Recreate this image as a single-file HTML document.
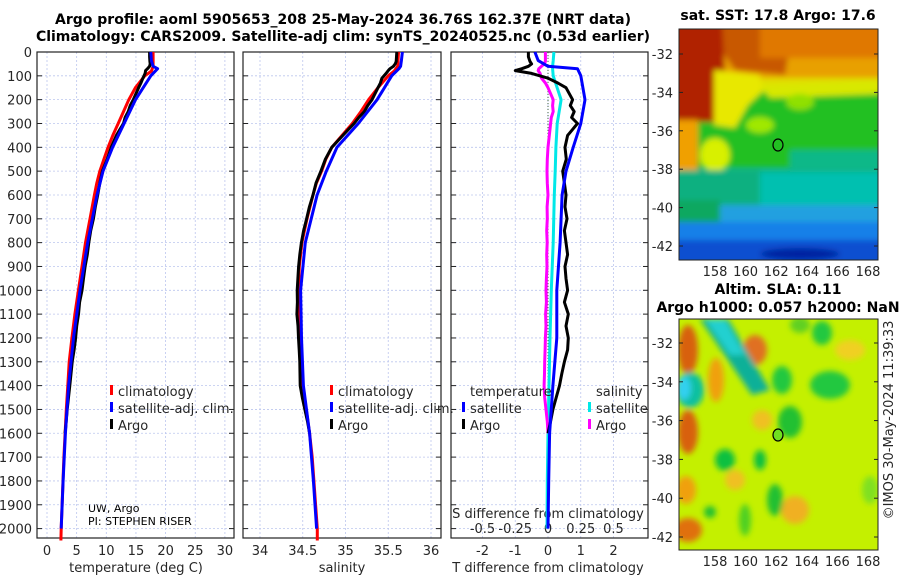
<!DOCTYPE html>
<html><head><meta charset="utf-8">
<style>
html,body{margin:0;padding:0;background:#fff;}
svg{display:block;font-family:"DejaVu Sans","Liberation Sans",sans-serif;}
.t{font-size:13px;fill:#262626;}
.b{font-weight:bold;font-size:14px;fill:#000;}
</style></head>
<body>
<svg id="fig" width="900" height="580" viewBox="0 0 900 580" xmlns="http://www.w3.org/2000/svg">
<defs>
<filter id="bl" filterUnits="userSpaceOnUse" x="660" y="10" width="240" height="270"><feGaussianBlur stdDeviation="3"/></filter>
<filter id="bl2" filterUnits="userSpaceOnUse" x="660" y="300" width="240" height="270"><feGaussianBlur stdDeviation="3"/></filter>
<clipPath id="c1"><rect x="679" y="29" width="199" height="231"/></clipPath>
<clipPath id="c2"><rect x="679" y="319" width="199" height="231"/></clipPath>
</defs>
<text class="b" x="343" y="24" text-anchor="middle">Argo profile: aoml 5905653_208 25-May-2024 36.76S 162.37E (NRT data)</text>
<text class="b" x="343" y="41" text-anchor="middle">Climatology: CARS2009. Satellite-adj clim: synTS_20240525.nc (0.53d earlier)</text>

<!-- SST map -->
<g>
<g clip-path="url(#c1)">
<rect x="679" y="29" width="199" height="231" fill="#10b880"/>
<g filter="url(#bl)">
<rect x="670" y="20" width="220" height="60" fill="#e8a000"/>
<rect x="670" y="78" width="220" height="16" fill="#e0e000"/>
<rect x="670" y="92" width="220" height="75" fill="#20c020"/>
<polygon points="700,20 765,20 790,45 785,75 735,70" fill="#c85800"/>
<rect x="760" y="20" width="130" height="38" fill="#e07800"/>
<polygon points="670,20 722,20 725,75 715,122 670,122" fill="#b02000"/>
<polygon points="714,70 760,75 762,92 748,105 735,128 714,125" fill="#e8e800"/>
<polygon points="760,86 878,80 878,94 770,98" fill="#d8e800"/>
<rect x="670" y="120" width="28" height="50" fill="#f0a000"/>
<ellipse cx="715" cy="155" rx="15" ry="17" fill="#d8f000"/>
<ellipse cx="760" cy="125" rx="14" ry="8" fill="#a0e800"/>
<ellipse cx="800" cy="102" rx="14" ry="8" fill="#90e000"/>
<rect x="790" y="150" width="100" height="25" fill="#10b888"/>
<rect x="670" y="170" width="220" height="35" fill="#10b080"/>
<rect x="760" y="172" width="130" height="33" fill="#00c0b0"/>
<rect x="670" y="200" width="50" height="25" fill="#10a860"/>
<rect x="720" y="205" width="170" height="20" fill="#20a0e0"/>
<rect x="670" y="222" width="220" height="20" fill="#1880e8"/>
<rect x="670" y="240" width="220" height="25" fill="#1050d0"/>
<ellipse cx="800" cy="254" rx="40" ry="6" fill="#0020a0"/>
</g>
</g>
<rect x="679" y="29" width="199" height="231" fill="none" stroke="#222" stroke-width="1"/>
<ellipse cx="778" cy="145" rx="5" ry="6" fill="none" stroke="#000" stroke-width="1.2"/>
<text class="b" x="778" y="20" text-anchor="middle">sat. SST: 17.8 Argo: 17.6</text>
</g>

<!-- SLA map -->
<g>
<g clip-path="url(#c2)">
<rect x="679" y="319" width="199" height="231" fill="#c4f000"/>
<g filter="url(#bl2)">
<ellipse cx="688" cy="350" rx="10" ry="25" fill="#d86010"/>
<ellipse cx="688" cy="432" rx="10" ry="22" fill="#d86010"/>
<ellipse cx="688" cy="530" rx="14" ry="12" fill="#e07010"/>
<ellipse cx="686" cy="490" rx="10" ry="14" fill="#f0a010"/>
<ellipse cx="755" cy="350" rx="12" ry="15" fill="#e07020"/>
<ellipse cx="716" cy="380" rx="8" ry="22" fill="#f0a010"/>
<ellipse cx="762" cy="420" rx="10" ry="10" fill="#f0c020"/>
<ellipse cx="795" cy="510" rx="14" ry="14" fill="#f0b020"/>
<ellipse cx="735" cy="480" rx="10" ry="10" fill="#f0c020"/>
<ellipse cx="850" cy="350" rx="15" ry="10" fill="#f0d020"/>
<ellipse cx="690" cy="390" rx="14" ry="18" fill="#10c0a0"/>
<ellipse cx="684" cy="388" rx="7" ry="12" fill="#30d0f0"/>
<polygon points="700,319 728,319 770,390 752,395" fill="#10b098"/>
<polygon points="705,319 725,319 745,355 730,355" fill="#20d0d0"/>
<ellipse cx="725" cy="460" rx="10" ry="11" fill="#10c040"/>
<ellipse cx="760" cy="460" rx="6" ry="10" fill="#10c040"/>
<ellipse cx="782" cy="380" rx="10" ry="14" fill="#20c840"/>
<ellipse cx="790" cy="422" rx="12" ry="16" fill="#20c030"/>
<ellipse cx="830" cy="385" rx="20" ry="14" fill="#20c840"/>
<ellipse cx="822" cy="333" rx="10" ry="12" fill="#20c840"/>
<ellipse cx="775" cy="500" rx="8" ry="16" fill="#20c030"/>
<ellipse cx="745" cy="520" rx="6" ry="16" fill="#50d020"/>
<ellipse cx="710" cy="512" rx="6" ry="6" fill="#20c030"/>
<ellipse cx="800" cy="325" rx="10" ry="8" fill="#60d020"/>
<ellipse cx="870" cy="490" rx="8" ry="14" fill="#80e020"/>
</g>
</g>
<rect x="679" y="319" width="199" height="231" fill="none" stroke="#222" stroke-width="1"/>
<ellipse cx="778" cy="435" rx="5" ry="6" fill="#70e020" stroke="#000" stroke-width="1.2"/>
<text class="b" x="778" y="294" text-anchor="middle">Altim. SLA: 0.11</text>
<text class="b" x="778" y="312" text-anchor="middle">Argo h1000: 0.057 h2000: NaN</text>
</g>
<text class="t" transform="translate(893,420) rotate(-90)" text-anchor="middle">©IMOS 30-May-2024 11:39:33</text>

<text x="88" y="512" font-size="11" fill="#000">UW, Argo</text>
<text x="88" y="525" font-size="11" fill="#000">PI: STEPHEN RISER</text>
<g id="plots"></g>
</svg>
<script>
// ---- data ----
const climDepth = [0,60,80,100,150,200,250,300,350,400,450,500,550,600,700,800,900,1000,1100,1200,1300,1400,1500,1600,1700,1800,1900,2000,2050];
const climT = [17.9,17.9,17.6,16.5,14.9,13.8,12.9,12.0,11.1,10.3,9.6,8.9,8.4,8.0,7.25,6.5,5.9,5.3,4.7,4.2,3.75,3.5,3.25,3.05,2.85,2.7,2.55,2.4,2.35];
const climS = [35.62,35.61,35.57,35.5,35.38,35.27,35.18,35.08,34.96,34.84,34.77,34.72,34.66,34.62,34.55,34.49,34.46,34.45,34.45,34.47,34.49,34.5,34.54,34.58,34.61,34.63,34.65,34.67,34.67];
const satDepth = [0,36,60,70,100,200,300,400,500,600,800,1000,1200,1400,1600,1800,2000];
const satTdiff = [-0.4,-0.3,0.0,0.9,1.0,1.13,1.0,0.77,0.55,0.43,0.37,0.27,0.27,0.15,0.05,0.02,0.0];
const satSdiff = [0.045,0.04,0.035,0.035,0.04,0.1,0.07,0.06,0.055,0.048,0.04,0.025,0.015,0.008,0.0,-0.005,-0.008];
const argoDepth = [0,20,40,50,60,70,78,90,110,130,150,175,200,225,250,275,300,325,350,400,450,500,550,600,650,700,750,800,850,900,950,1000,1050,1100,1150,1200,1250,1300,1350,1400,1450,1500,1550,1600];
const argoTdiff = [-0.6,-0.6,-0.55,-0.5,-0.6,-0.8,-1.0,-0.5,0.0,0.3,0.55,0.65,0.75,0.68,0.8,0.72,0.9,0.75,0.6,0.52,0.56,0.45,0.5,0.55,0.52,0.58,0.5,0.55,0.6,0.52,0.55,0.6,0.5,0.62,0.55,0.62,0.6,0.5,0.42,0.35,0.25,0.15,0.08,0.0];
const argoSdiff = [-0.02,-0.02,-0.02,-0.03,-0.05,-0.07,-0.075,-0.06,-0.05,-0.02,0.0,0.02,0.04,0.035,0.04,0.025,0.02,0.015,0.01,0.0,-0.005,-0.008,-0.005,0.0,-0.007,-0.005,-0.01,-0.006,-0.01,-0.008,-0.012,-0.015,-0.012,-0.018,-0.015,-0.02,-0.022,-0.025,-0.027,-0.03,-0.025,-0.015,-0.005,0.0];
const depthTicks = [0,100,200,300,400,500,600,700,800,900,1000,1100,1200,1300,1400,1500,1600,1700,1800,1900,2000];
const tTicks = [0,5,10,15,20,25,30];
const sTicks = [34,34.5,35,35.5,36];
const dTTicks = [-2,-1,0,1,2];
const dSTicks = [-0.5,-0.25,0,0.25,0.5];
const dSTickLabels = ["-0.5","-0.25","0","0.25","0.5"];

// ---- axes ----
const NS = "http://www.w3.org/2000/svg";
const root = document.getElementById('plots');
const Y0 = 52, YS = 0.2383, YB = 538;
const yOf = d => Y0 + d*YS;
const xT = v => 47 + v*5.93;
const xS = v => 260 + (v-34)*85.5;
const xDT = v => 548 + v*32.75;
const xDS = v => 548 + v*131;
const panels = [[37,234],[243,441],[451,648]];

function mk(tag, attrs, parent){
  const e = document.createElementNS(NS, tag);
  for (const k in attrs) e.setAttribute(k, attrs[k]);
  (parent||root).appendChild(e);
  return e;
}
function interp(xs, ys, x){
  if (x<=xs[0]) return ys[0];
  for (let i=1;i<xs.length;i++) if (x<=xs[i]) { const f=(x-xs[i-1])/(xs[i]-xs[i-1]); return ys[i-1]+f*(ys[i]-ys[i-1]); }
  return ys[ys.length-1];
}
function line(depths, vals, xf, color, w, name){
  const pts = depths.map((d,i)=> xf(vals[i]).toFixed(1)+','+yOf(d).toFixed(1)).join(' ');
  const p = mk('polyline', {points:pts, fill:'none', stroke:color, 'stroke-width':w, 'stroke-linejoin':'round'});
  
  
}
function text(x,y,s,anchor,size,name){
  const t = mk('text',{x:x,y:y,'text-anchor':anchor||'start','font-size':size||13,fill:'#262626'});
  t.textContent = s;
  
  
  return t;
}

panels.forEach(([l,r],pi)=>{
  const g = mk('g',{});
  
  
  depthTicks.forEach(d=>{
    mk('line',{x1:l,x2:r,y1:yOf(d),y2:yOf(d),stroke:'#bcc6ee','stroke-width':0.8,'stroke-dasharray':'2,2'},g);
    mk('line',{x1:l,x2:l+5,y1:yOf(d),y2:yOf(d),stroke:'#222'},g);
    mk('line',{x1:r-5,x2:r,y1:yOf(d),y2:yOf(d),stroke:'#222'},g);
  });
  const xs = pi===0? tTicks.map(xT) : pi===1? sTicks.map(xS) : dTTicks.map(xDT);
  xs.forEach(x=>{
    mk('line',{x1:x,x2:x,y1:Y0,y2:YB,stroke:'#bcc6ee','stroke-width':0.8,'stroke-dasharray':'2,2'},g);
  });
  const fr = mk('rect',{x:l,y:Y0,width:r-l,height:YB-Y0,fill:'none',stroke:'#222','stroke-width':1.2});
  
  
});
depthTicks.forEach(d=> text(32, yOf(d)+5, String(d), 'end', 13, 'depth-tick-label'));
tTicks.forEach(v=> text(xT(v), 555, String(v), 'middle', 13, 'temp-tick-label'));
sTicks.forEach(v=> text(xS(v), 555, String(v), 'middle', 13, 'sal-tick-label'));
dTTicks.forEach(v=> text(xDT(v), 555, String(v), 'middle', 13, 'tdiff-tick-label'));
dSTicks.forEach((v,i)=> text(xDS(v), 533, dSTickLabels[i], 'middle', 13, 'sdiff-tick-label'));
text(136, 572, 'temperature (deg C)', 'middle', 13, 'x-axis-title-temperature');
text(342, 572, 'salinity', 'middle', 13, 'x-axis-title-salinity');
text(548, 572, 'T difference from climatology', 'middle', 13, 'x-axis-title-tdiff');
text(548, 518, 'S difference from climatology', 'middle', 13, 'x-axis-title-sdiff');

// zero line in diff panel
const z = mk('line',{x1:xDT(0),x2:xDT(0),y1:Y0,y2:400,stroke:'#446644','stroke-width':1,'stroke-dasharray':'1,2'});



// derived profiles
const satT = satDepth.map((d,i)=> interp(climDepth,climT,d)+satTdiff[i]);
const satS = satDepth.map((d,i)=> interp(climDepth,climS,d)+satSdiff[i]);
const argoT = argoDepth.map((d,i)=> interp(climDepth,climT,d)+argoTdiff[i]);
const argoS = argoDepth.map((d,i)=> interp(climDepth,climS,d)+argoSdiff[i]);

line(climDepth, climT, xT, '#ff0000', 3, 'temp-climatology-line');
line(argoDepth, argoT, xT, '#000000', 3, 'temp-argo-line');
line(satDepth, satT, xT, '#0000ff', 3, 'temp-satellite-line');
line(climDepth, climS, xS, '#ff0000', 3, 'sal-climatology-line');
line(argoDepth, argoS, xS, '#000000', 3, 'sal-argo-line');
line(satDepth, satS, xS, '#0000ff', 3, 'sal-satellite-line');
line(satDepth, satSdiff, xDS, '#00e8e8', 3, 'sdiff-satellite-line');
line(argoDepth, argoSdiff, xDS, '#ff00ff', 3, 'sdiff-argo-line');
line(argoDepth, argoTdiff, xDT, '#000000', 3, 'tdiff-argo-line');
line(satDepth, satTdiff, xDT, '#0000ff', 3, 'tdiff-satellite-line');

// legends
function leg(x,y,color,label,name){
  const m = mk('rect',{x:x,y:y-11,width:3,height:10,fill:color});
  
  
  text(x+8, y, label, 'start', 13, name);
}
leg(110,396,'#ff0000','climatology','legend-temp-climatology');
leg(110,413,'#0000ff','satellite-adj. clim.','legend-temp-satellite');
leg(110,430,'#000000','Argo','legend-temp-argo');
leg(330,396,'#ff0000','climatology','legend-sal-climatology');
leg(330,413,'#0000ff','satellite-adj. clim.','legend-sal-satellite');
leg(330,430,'#000000','Argo','legend-sal-argo');
text(470,396,'temperature','start',13,'legend-tdiff-header');
text(596,396,'salinity','start',13,'legend-sdiff-header');
leg(462,413,'#0000ff','satellite','legend-tdiff-satellite');
leg(462,430,'#000000','Argo','legend-tdiff-argo');
leg(588,413,'#00e8e8','satellite','legend-sdiff-satellite');
leg(588,430,'#ff00ff','Argo','legend-sdiff-argo');

// map ticks
const mapLats = [-32,-34,-36,-38,-40,-42];
const mapLons = [158,160,162,164,166,168];
[[54,19.2,273],[343,19.4,563]].forEach(([y32,sc,ly],mi)=>{
  mapLats.forEach(v=>{
    const y = y32 + (-32-v)*sc;
    text(673, y+5, String(v), 'end', 13, 'map-lat-label');
    mk('line',{x1:679,x2:683,y1:y,y2:y,stroke:'#222'});
    mk('line',{x1:874,x2:878,y1:y,y2:y,stroke:'#222'});
  });
  mapLons.forEach(v=>{
    const x = 715 + (v-158)*15.3;
    text(x, ly+3, String(v), 'middle', 13, 'map-lon-label');
  });
});
</script>
</body></html>
